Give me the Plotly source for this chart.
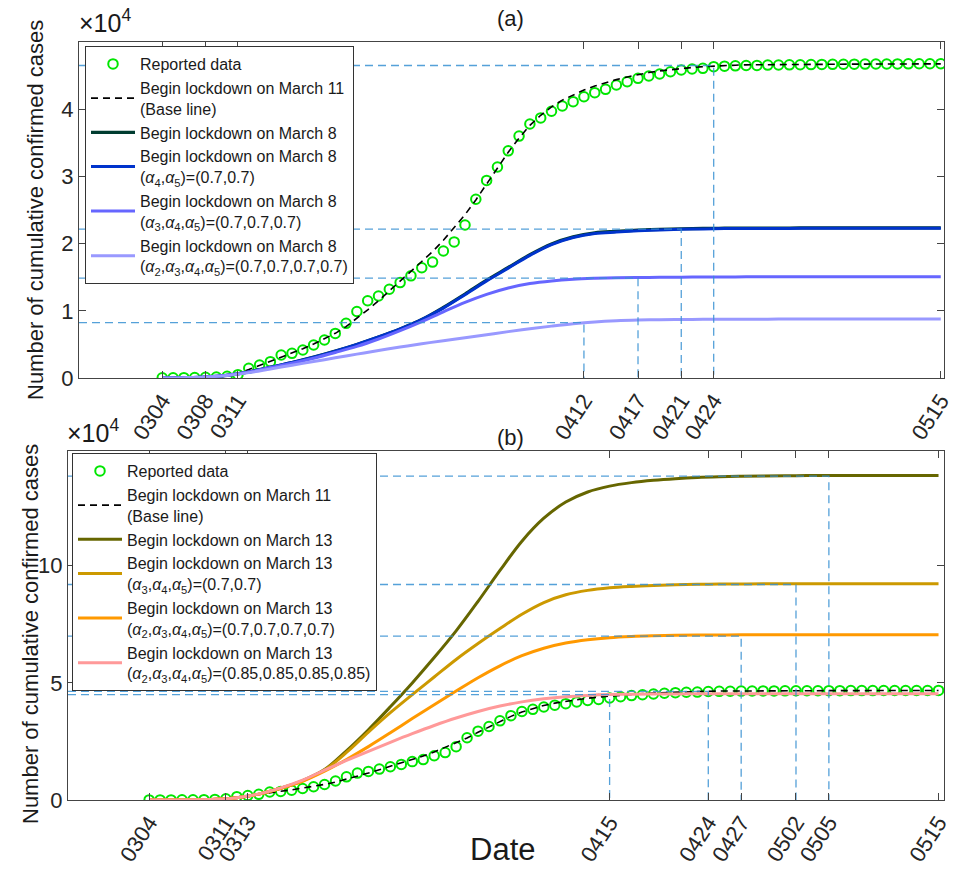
import pandas as pd
import plotly.graph_objects as go

# ---------------- data ----------------
dates = pd.date_range("2020-03-04", "2020-05-15", freq="D")      # 0304 ... 0515 (73 days)
dates2 = dates[::2]                                               # every 2nd day for model curves

reported = [30, 40, 50, 70, 100, 150, 250, 500,
            1440, 1930, 2430, 3420, 3670, 4170, 4910, 5650, 6640, 8130,
            9900, 11500, 12200, 13200, 14200, 15200, 16400, 17250, 18900, 20250,
            22770, 26600, 29400, 31400, 33800, 36000, 37800, 38700, 39700, 40480,
            41120, 41860, 42460, 42960, 43600, 44100, 44590, 44940, 45240, 45580,
            45830, 45980, 46080, 46330, 46400, 46450, 46500, 46520, 46560, 46580,
            46600, 46620, 46640, 46660, 46680, 46690, 46700, 46710, 46720, 46730,
            46740, 46750, 46760, 46770, 46780]

baseline = [20, 40, 60, 90, 130, 200, 320, 700, 1250, 1850, 2500, 3150, 3700,
            4350, 5050, 5850, 6650, 7650, 8850, 10150, 11500, 12950, 14400, 15800,
            17250, 18800, 20500, 22400, 24300, 26500, 28900, 31200, 33600, 35700,
            37600, 39100, 40350, 41350, 42150, 42850, 43450, 43950, 44400, 44800,
            45150, 45450, 45700, 45900, 46050, 46200, 46330, 46430, 46500, 46550,
            46600, 46620, 46640, 46650, 46660, 46670, 46680, 46690, 46700, 46705,
            46710, 46715, 46720, 46725, 46730, 46735, 46740, 46745, 46750]

# panel (a): lockdown on March 8 (values every 2 days)
mar8_base = [0, 50, 150, 400, 900, 1600, 2300, 3100, 4000, 5000, 6100, 7300, 8700,
             10500, 12500, 14550, 16450, 18350, 19950, 21000, 21600, 21820, 22000,
             22130, 22210, 22260, 22290, 22310, 22320, 22325, 22330, 22330, 22330,
             22330, 22330, 22330, 22330]
mar8_a45 = [0, 50, 150, 400, 900, 1600, 2300, 3100, 4000, 5000, 6100, 7300, 8700,
            10400, 12400, 14450, 16350, 18250, 19850, 20900, 21500, 21720, 21900,
            22040, 22130, 22190, 22230, 22250, 22260, 22265, 22270, 22270, 22270,
            22270, 22270, 22270, 22270]
mar8_a345 = [0, 50, 150, 400, 880, 1550, 2200, 2950, 3800, 4700, 5800, 7050, 8400,
             9850, 11250, 12450, 13400, 14050, 14450, 14700, 14830, 14900, 14950,
             14990, 15010, 15030, 15040, 15050, 15055, 15060, 15065, 15070, 15075,
             15080, 15080, 15080, 15080]
mar8_a2345 = [0, 50, 150, 380, 800, 1350, 1900, 2450, 3000, 3550, 4100, 4600, 5100,
              5550, 6000, 6450, 6900, 7320, 7720, 8080, 8350, 8520, 8620, 8680, 8710,
              8730, 8745, 8755, 8760, 8765, 8770, 8775, 8780, 8780, 8780, 8780, 8780]

# panel (b): lockdown on March 13 (values every 2 days)
mar13_base = [0, 30, 100, 300, 1000, 2500, 5000, 8300, 13000, 21000, 30000, 39800,
              50000, 60800, 72200, 84800, 98000, 110500, 120300, 127200, 131500,
              134000, 135500, 136500, 137200, 137700, 138000, 138200, 138350, 138450,
              138500, 138500, 138500, 138500, 138500, 138500, 138500]
mar13_a345 = [0, 30, 100, 300, 1000, 2500, 5000, 8200, 12800, 20300, 29000, 37300,
              45000, 52500, 60000, 66800, 73200, 79300, 84300, 87600, 89500, 90600,
              91200, 91600, 91900, 92100, 92200, 92250, 92300, 92300, 92300, 92300,
              92300, 92300, 92300, 92300, 92300]
mar13_a2345 = [0, 30, 100, 300, 1000, 2500, 5000, 8000, 12300, 17300, 22800, 28700,
               34800, 40700, 46500, 52200, 57300, 61600, 64800, 67000, 68400, 69300,
               69800, 70100, 70300, 70400, 70450, 70500, 70500, 70500, 70500, 70500,
               70500, 70500, 70500, 70500, 70500]
mar13_a2345_085 = [0, 30, 100, 300, 1000, 2600, 5200, 8500, 12800, 16900, 20800, 24600,
                   28300, 31800, 35000, 37800, 40100, 41900, 43200, 44100, 44650, 45000,
                   45170, 45260, 45300, 45320, 45330, 45340, 45350, 45350, 45350, 45350,
                   45350, 45350, 45350, 45350, 45350]

# tick labels / reference dates
ticks_a = ["0304", "0308", "0311", "0412", "0417", "0421", "0424", "0515"]
ticks_b = ["0304", "0311", "0313", "0415", "0424", "0427", "0502", "0505", "0515"]
ref_a_dates = ["0412", "0417", "0421", "0424"]
ref_a_vals = [8250, 14850, 22150, 46500]
ref_b_dates = ["0415", "0424", "0427", "0502", "0505"]
ref_b_vals = [44950, 46350, 70000, 92000, 138300]

def md(s):
    return pd.Timestamp(f"2020-{s[:2]}-{s[2:]}")

# ---------------- styling ----------------
FONT = "Liberation Sans, Arial, Helvetica, sans-serif"
W, H = 962, 869
GREEN = "rgb(0,230,0)"
REF = "rgba(55,145,210,0.85)"

xr_a = [dates[0] - pd.Timedelta(hours=7.7 * 24), dates[0] + pd.Timedelta(hours=72.3 * 24)]
xr_b = [dates[0] - pd.Timedelta(hours=7.4 * 24), dates[0] + pd.Timedelta(hours=72.5 * 24)]

fig = go.Figure()

def add_common(xa, ya, leg):
    fig.add_trace(go.Scatter(x=dates, y=reported, mode="markers", name="Reported data",
                             marker=dict(symbol="circle-open", size=9.5, color=GREEN,
                                         line=dict(width=2, color=GREEN)),
                             xaxis=xa, yaxis=ya, legend=leg))
    fig.add_trace(go.Scatter(x=dates, y=baseline, mode="lines",
                             name="Begin lockdown on March 11<br>(Base line)",
                             line=dict(color="black", width=1.6, dash="7px,5px"),
                             xaxis=xa, yaxis=ya, legend=leg))

def add_curve(y, name, color, xa, ya, leg, width=3):
    fig.add_trace(go.Scatter(x=dates2, y=y, mode="lines", name=name,
                             line=dict(color=color, width=width, shape="spline", smoothing=1.0),
                             xaxis=xa, yaxis=ya, legend=leg))

def add_refs(dlist, vlist, xstart, xa, ya):
    xs, ys = [], []
    for d, v in zip(dlist, vlist):
        xs += [xstart, md(d), md(d), None]
        ys += [v, v, 0, None]
    fig.add_trace(go.Scatter(x=xs, y=ys, mode="lines", showlegend=False, hoverinfo="skip",
                             line=dict(color=REF, width=1.3, dash="8px,5px"),
                             xaxis=xa, yaxis=ya))

def alph(idx):
    return "(" + ",".join(f"<i>α</i><sub>{i}</sub>" for i in idx) + ")"

# panel (a)
add_common("x", "y", "legend")
add_curve(mar8_base, "Begin lockdown on March 8", "rgb(0,60,48)", "x", "y", "legend", 3.2)
add_curve(mar8_a45, "Begin lockdown on March 8<br>" + alph([4, 5]) + "=(0.7,0.7)",
          "rgb(0,51,204)", "x", "y", "legend", 3)
add_curve(mar8_a345, "Begin lockdown on March 8<br>" + alph([3, 4, 5]) + "=(0.7,0.7,0.7)",
          "rgb(102,102,255)", "x", "y", "legend", 3)
add_curve(mar8_a2345, "Begin lockdown on March 8<br>" + alph([2, 3, 4, 5]) + "=(0.7,0.7,0.7,0.7)",
          "rgb(153,153,255)", "x", "y", "legend", 3)
add_refs(ref_a_dates, ref_a_vals, xr_a[0], "x", "y")

# panel (b)
add_common("x2", "y2", "legend2")
add_curve(mar13_base, "Begin lockdown on March 13", "rgb(102,102,0)", "x2", "y2", "legend2")
add_curve(mar13_a345, "Begin lockdown on March 13<br>" + alph([3, 4, 5]) + "=(0.7,0.7)",
          "rgb(204,153,0)", "x2", "y2", "legend2")
add_curve(mar13_a2345, "Begin lockdown on March 13<br>" + alph([2, 3, 4, 5]) + "=(0.7,0.7,0.7,0.7)",
          "rgb(255,153,0)", "x2", "y2", "legend2")
add_curve(mar13_a2345_085, "Begin lockdown on March 13<br>" + alph([2, 3, 4, 5]) + "=(0.85,0.85,0.85,0.85)",
          "rgb(255,153,153)", "x2", "y2", "legend2")
add_refs(ref_b_dates, ref_b_vals, xr_b[0], "x2", "y2")

axis_common = dict(showline=True, linecolor="#444444", linewidth=1.3, mirror="allticks",
                   ticks="inside", ticklen=7, tickwidth=1, tickcolor="#444444",
                   showgrid=False, zeroline=False, automargin=False,
                   tickfont=dict(family=FONT, size=22, color="#262626"))

leg_common = dict(xanchor="left", yanchor="top", bgcolor="white", bordercolor="#333333",
                  borderwidth=1, font=dict(family=FONT, size=16, color="#1a1a1a"),
                  itemwidth=44, tracegroupgap=0, traceorder="normal")

def ann(text, x, y, size, **kw):
    d = dict(text=text, x=x / W, y=1 - y / H, xref="paper", yref="paper", showarrow=False,
             font=dict(family=FONT, size=size, color="#1a1a1a"),
             xanchor="center", yanchor="middle")
    d.update(kw)
    return d

fig.update_layout(
    width=W, height=H, margin=dict(l=0, r=0, t=0, b=0, autoexpand=False), autosize=False,
    paper_bgcolor="white", plot_bgcolor="white",
    font=dict(family=FONT, color="#1a1a1a"),
    xaxis=dict(domain=[79 / W, 944 / W], anchor="y", range=xr_a,
               tickvals=[md(t) for t in ticks_a], ticktext=ticks_a, tickangle=-57,
               **axis_common),
    yaxis=dict(domain=[1 - 378 / H, 1 - 42 / H], anchor="x", range=[0, 50000],
               tickvals=[0, 10000, 20000, 30000, 40000], ticktext=["0", "1", "2", "3", "4"],
               **axis_common),
    xaxis2=dict(domain=[68 / W, 944 / W], anchor="y2", range=xr_b,
                tickvals=[md(t) for t in ticks_b], ticktext=ticks_b, tickangle=-57,
                **axis_common),
    yaxis2=dict(domain=[1 - 800 / H, 1 - 451 / H], anchor="x2", range=[0, 149000],
                tickvals=[0, 50000, 100000], ticktext=["0", "5", "10"],
                **axis_common),
    legend=dict(x=85 / W, y=1 - 46 / H, **leg_common),
    legend2=dict(x=72 / W, y=1 - 453 / H, **leg_common),
    annotations=[
        ann("(a)", 511, 18, 22),
        ann("(b)", 511, 437, 22),
        ann("×10<sup>4</sup>", 77, 39, 25, xanchor="left", yanchor="bottom"),
        ann("×10<sup>4</sup>", 65, 449, 25, xanchor="left", yanchor="bottom"),
        ann("Number of cumulative confirmed cases", 35, 210, 22, textangle=-90),
        ann("Number of cumulative confirmed cases", 30, 634, 22, textangle=-90),
        ann("Date", 503, 849, 31),
    ],
)

fig.write_html("out.html")
